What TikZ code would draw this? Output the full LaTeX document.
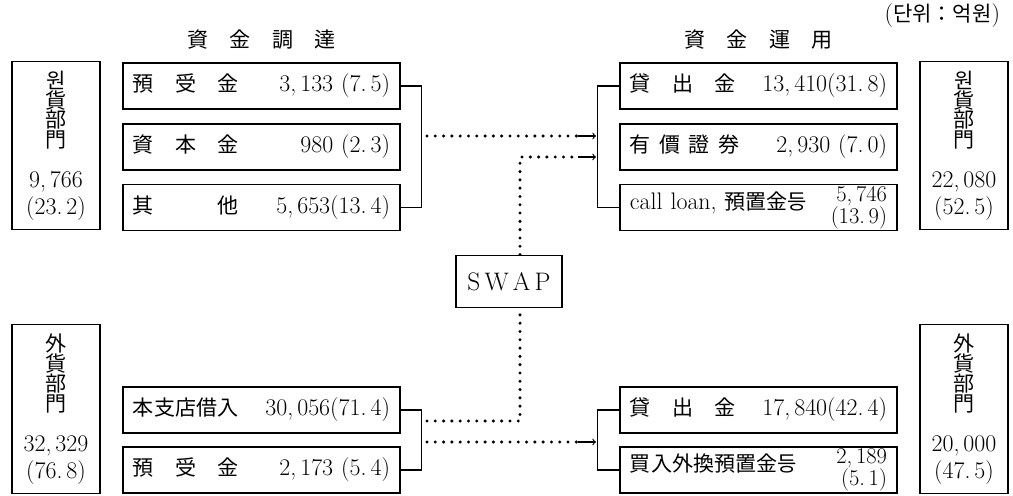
\documentclass[tikz,border=0pt]{standalone}
\usepackage{fontspec}
\newfontfamily\cjk[Scale=0.88]{Noto Sans CJK KR}
\usetikzlibrary{calc}
\newcommand{\hj}[1]{{\cjk #1}}
\newcommand{\ksp}{\hspace{1em}}
\newcommand{\stacknum}[2]{\raisebox{-3pt}{\fontsize{16}{13}\selectfont\begin{tabular}[c]{@{}r@{}}#1\\#2\end{tabular}}}

\tikzset{
	every node/.style={font=\fontsize{17}{20}\selectfont},
	itembox/.style={draw, line width=0.8pt, minimum height=1.15cm, text width=6.425cm,
		inner xsep=0.25cm, inner ysep=0pt, align=left},
	deptbox/.style={draw, line width=0.8pt, minimum width=2.2cm, minimum height=4.22cm,
		inner sep=0pt, align=center, font=\fontsize{17}{14.2}\selectfont},
	swapbox/.style={draw, line width=0.8pt, minimum width=2.65cm, minimum height=1.32cm,
		font=\fontsize{18}{20}\selectfont},
	dotline/.style={line width=2.4pt, line cap=round, dash pattern=on 0pt off 5.9pt},
	tipline/.style={line width=0.8pt, -to}
}

\begin{document}
\begin{tikzpicture}[x=0.025cm,y=-0.025cm]
	\useasboundingbox (0,0) rectangle (1013,495);

	% headings
	\node[anchor=east] (unit) at (1005,16) {(\hj{단위：억원})};
	\node (srctitle) at (261.5,40) {\hj{資\ksp 金\ksp 調\ksp 達}};
	\node (usetitle) at (758.5,40) {\hj{資\ksp 金\ksp 運\ksp 用}};

	% won department
	\node[deptbox] (wonsrc) at (56,145.5) {\hj{원}\\\hj{貨}\\\hj{部}\\\hj{門}\\[14pt]9,\,766\\[2pt](23.\,2)};
	\node[itembox] (w1) at (261.5,86) {\hj{預\ksp 受\ksp 金}\hfill 3,\,133 (7.\,5)};
	\node[itembox] (w2) at (261.5,147) {\hj{資\ksp 本\ksp 金}\hfill 980 (2.\,3)};
	\node[itembox] (w3) at (261.5,207.5) {\hj{其\hspace{3em}他}\hfill 5,\,653(13.\,4)};
	\node[itembox] (v1) at (758.5,86) {\hj{貸\ksp 出\ksp 金}\hfill 13,\,410(31.\,8)};
	\node[itembox] (v2) at (758.5,147) {\hj{有\hspace{.4em}價\hspace{.4em}證\hspace{.4em}券}\hfill 2,\,930 (7.\,0)};
	\node[itembox] (v3) at (758.5,207.5) {call loan, \hj{預置金등}\hfill\stacknum{5,\,746}{(13.\,9)}};
	\node[deptbox] (wonuse) at (964,145.5) {\hj{원}\\\hj{貨}\\\hj{部}\\\hj{門}\\[14pt]22,\,080\\[2pt](52.\,5)};

	% foreign currency department
	\node[deptbox] (fxsrc) at (56,409) {\hj{外}\\\hj{貨}\\\hj{部}\\\hj{門}\\[14pt]32,\,329\\[2pt](76.\,8)};
	\node[itembox] (f1) at (261.5,410) {\hj{本支店借入}\hfill 30,\,056(71.\,4)};
	\node[itembox] (f2) at (261.5,470) {\hj{預\ksp 受\ksp 金}\hfill 2,\,173 (5.\,4)};
	\node[itembox] (g1) at (758.5,410) {\hj{貸\ksp 出\ksp 金}\hfill 17,\,840(42.\,4)};
	\node[itembox] (g2) at (758.5,470) {\hj{買入外換預置金등}\hfill\stacknum{2,\,189}{(5.\,1)}};
	\node[deptbox] (fxuse) at (964,409) {\hj{外}\\\hj{貨}\\\hj{部}\\\hj{門}\\[14pt]20,\,000\\[2pt](47.\,5)};

	\node[swapbox] (swap) at (509,281.5) {S\,W\,A\,P};

	% brackets
	\draw[line width=0.8pt] (w1.east) -- ++(21,0) |- (w3.east);
	\draw[line width=0.8pt] (v1.west) -- ++(-22,0) |- (v3.west);
	\draw[line width=0.8pt] (f1.east) -- ++(21,0) |- (f2.east);
	\draw[line width=0.8pt] (g1.west) -- ++(-22,0) |- (g2.west);

	% flows
	\coordinate (ta) at (427,136);
	\coordinate (tb) at (578,136);
	\coordinate (tc) at (596,136);
	\coordinate (sa) at (520,157);
	\coordinate (sb) at (578,157);
	\coordinate (sc) at (596,157);
	\coordinate (ba) at (427,421);
	\coordinate (bb) at (520,421);
	\coordinate (ca) at (427,442);
	\coordinate (cb) at (578,442);
	\coordinate (cc) at (596,442);

	\draw[dotline] (ta) -- (tb);
	\draw[tipline] (tb) -- (tc);
	\draw[dotline] (swap.north -| sa) -- (sa) -- (sb);
	\draw[tipline] (sb) -- (sc);
	\draw[dotline] (ba) -- (bb) -- (swap.south -| bb);
	\draw[dotline] (ca) -- (cb);
	\draw[tipline] (cb) -- (cc);
\end{tikzpicture}
\end{document}
